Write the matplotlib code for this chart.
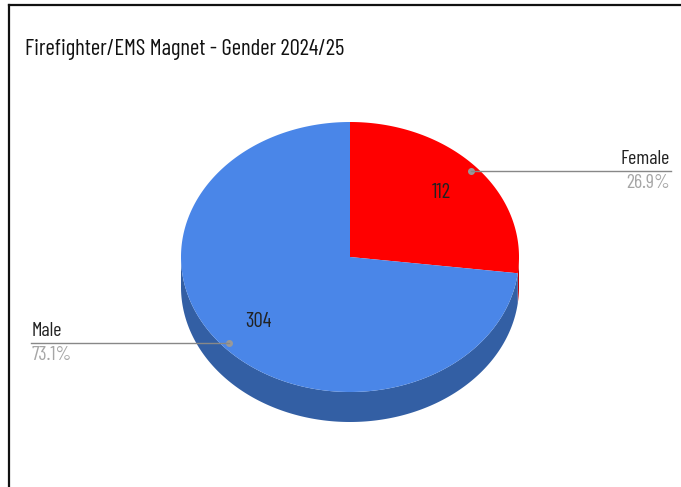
import matplotlib.pyplot as plt
import numpy as np
from matplotlib import font_manager
from matplotlib.lines import Line2D
from matplotlib.textpath import TextPath

# Dados
labels = ["Female", "Male"]
values = [112, 304]
top_colors = ["#ff0000", "#4a86e8"]
side_colors = ["#c40000", "#335fa4"]
title = "Firefighter/EMS Magnet - Gender 2024/25"

plt.rcParams["font.family"] = ["Liberation Sans", "DejaVu Sans"]


def measure(fp, s):
    ext = TextPath((0, 0), s, size=100, prop=fp).get_extents()
    return ext.width, ext.height


# candidatas: fontes sem serifa estreitas (regular)
cands = []
for f in font_manager.fontManager.ttflist:
    n = f.name.lower()
    st = str(f.stretch).lower()
    if f.style != "normal" or f.weight not in (400, "normal", "regular"):
        continue
    if "cjk" in n or "mono" in n or "serif" in n.replace("sans serif", ""):
        continue
    if "narrow" in n or "condensed" in n or "condensed" in st or n == "liberation sans":
        cands.append(f.fname)
cands = sorted(set(cands))[:12]

target = 317 / 17.0
best, best_err = None, 1e9
for fn in cands:
    try:
        fp_c = font_manager.FontProperties(fname=fn)
        w, _ = measure(fp_c, title)
        _, hcap = measure(fp_c, "F")
    except Exception:
        continue
    if hcap <= 0:
        continue
    err = abs(w / hcap - target)
    if err < best_err:
        best, best_err = fn, err

fp = font_manager.FontProperties(fname=best) if best else \
    font_manager.FontProperties(family=["Liberation Sans"])


def fit(s, width_px):
    w, _ = measure(fp, s)
    return 100 * width_px / (w * 100 / 72)


t_size = fit(title, 317)
l_size = fit("Female", 47)
v_size = fit("304", 25)

W, H = 681, 487
fig = plt.figure(figsize=(W / 100, H / 100), dpi=100)
ax = fig.add_axes([0, 0, 1, 1])
ax.set_xlim(0, W)
ax.set_ylim(H, 0)
ax.axis("off")

# geometria da pizza 3D
cx, cy = 350, 257
rx, ry = 169, 135
depth = 30


def ellipse(th, r=1.0, dz=0):
    return cx + r * rx * np.cos(th), cy - r * ry * np.sin(th) + dz


total = sum(values)
fracs = np.array(values) / total
angles = []
a = np.pi / 2
for f in fracs:
    angles.append((a, a - 2 * np.pi * f))
    a -= 2 * np.pi * f

# laterais (parte da frente)
for (a0, a1), col in zip(angles, side_colors):
    th = np.linspace(a0, a1, 400)
    idx = np.where(np.sin(th) <= 0)[0]
    if len(idx) == 0:
        continue
    runs = np.split(idx, np.where(np.diff(idx) != 1)[0] + 1)
    for run in runs:
        t = th[run]
        x1, y1 = ellipse(t)
        x2, y2 = ellipse(t[::-1], dz=depth)
        ax.fill(np.r_[x1, x2], np.r_[y1, y2], color=col, lw=0)

# topo
for (a0, a1), col in zip(angles, top_colors):
    th = np.linspace(a0, a1, 400)
    x, y = ellipse(th)
    ax.fill(np.r_[cx, x], np.r_[cy, y], color=col, lw=0)

# rótulos
for (a0, a1), lab, v, f in zip(angles, labels, values, fracs):
    mid = (a0 + a1) / 2
    vx, vy = ellipse(mid, 0.72)
    ax.text(vx, vy, str(v), ha="center", va="center", fontproperties=fp,
            fontsize=v_size, color="#222222")
    px, py = ellipse(mid, 0.96)
    ax.plot([px], [py], "o", color="#999999", ms=4)
    if np.cos(mid) >= 0:
        ax.plot([px, 671], [py, py], color="#888888", lw=1)
        ax.text(670, py - 3, lab, ha="right", va="bottom", fontproperties=fp,
                fontsize=l_size, color="#222222")
        ax.text(670, py + 3, f"{f*100:.1f}%", ha="right", va="top", fontproperties=fp,
                fontsize=l_size, color="#a6a6a6")
    else:
        ax.plot([31, px], [py, py], color="#888888", lw=1)
        ax.text(32, py - 3, lab, ha="left", va="bottom", fontproperties=fp,
                fontsize=l_size, color="#222222")
        ax.text(32, py + 3, f"{f*100:.1f}%", ha="left", va="top", fontproperties=fp,
                fontsize=l_size, color="#a6a6a6")

ax.text(25, 50, title, ha="left", va="center", fontproperties=fp,
        fontsize=t_size, color="#111111")

# moldura
fig.add_artist(Line2D([9 / W, 1], [1 - 5 / H, 1 - 5 / H], color="#111111", lw=1.6))
fig.add_artist(Line2D([9 / W, 9 / W], [0, 1 - 5 / H], color="#111111", lw=1.6))

plt.savefig("out.png", dpi=100)
